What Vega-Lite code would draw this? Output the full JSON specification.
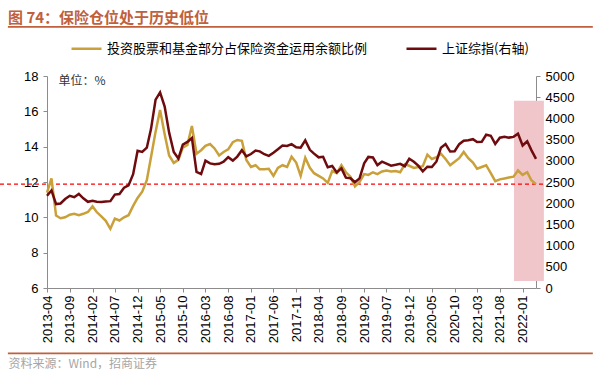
{
  "$schema": "https://vega.github.io/schema/vega-lite/v6.json",
  "width": 489,
  "height": 212,
  "autosize": {"type": "none"},
  "padding": {"left": 47, "top": 76, "right": 65, "bottom": 93},
  "background": "white",
  "title": {
    "text": "图 74：保险仓位处于历史低位",
    "anchor": "start",
    "frame": "group",
    "dx": -39,
    "fontSize": 15,
    "fontWeight": "bold",
    "color": "#C0603C",
    "font": "Noto Sans CJK SC",
    "offset": 0
  },
  "data": {"values": [
    {"month": "2013-04-01", "ratio": 11.4, "szzs": 2177},
    {"month": "2013-05-01", "ratio": 12.2, "szzs": 2301},
    {"month": "2013-06-01", "ratio": 10.1, "szzs": 1979},
    {"month": "2013-07-01", "ratio": 9.95, "szzs": 1994},
    {"month": "2013-08-01", "ratio": 10.0, "szzs": 2098},
    {"month": "2013-09-01", "ratio": 10.15, "szzs": 2175},
    {"month": "2013-10-01", "ratio": 10.2, "szzs": 2141},
    {"month": "2013-11-01", "ratio": 10.12, "szzs": 2220},
    {"month": "2013-12-01", "ratio": 10.2, "szzs": 2116},
    {"month": "2014-01-01", "ratio": 10.3, "szzs": 2033},
    {"month": "2014-02-01", "ratio": 10.62, "szzs": 2056},
    {"month": "2014-03-01", "ratio": 10.3, "szzs": 2033},
    {"month": "2014-04-01", "ratio": 10.05, "szzs": 2026},
    {"month": "2014-05-01", "ratio": 9.8, "szzs": 2039},
    {"month": "2014-06-01", "ratio": 9.35, "szzs": 2048},
    {"month": "2014-07-01", "ratio": 9.93, "szzs": 2202},
    {"month": "2014-08-01", "ratio": 9.82, "szzs": 2217},
    {"month": "2014-09-01", "ratio": 10.0, "szzs": 2364},
    {"month": "2014-10-01", "ratio": 10.12, "szzs": 2420},
    {"month": "2014-11-01", "ratio": 10.65, "szzs": 2683},
    {"month": "2014-12-01", "ratio": 11.1, "szzs": 3235},
    {"month": "2015-01-01", "ratio": 11.45, "szzs": 3210},
    {"month": "2015-02-01", "ratio": 12.1, "szzs": 3310},
    {"month": "2015-03-01", "ratio": 13.4, "szzs": 3748},
    {"month": "2015-04-01", "ratio": 14.85, "szzs": 4442},
    {"month": "2015-05-01", "ratio": 16.07, "szzs": 4612},
    {"month": "2015-06-01", "ratio": 14.7, "szzs": 4277},
    {"month": "2015-07-01", "ratio": 13.5, "szzs": 3664},
    {"month": "2015-08-01", "ratio": 13.08, "szzs": 3206},
    {"month": "2015-09-01", "ratio": 13.25, "szzs": 3053},
    {"month": "2015-10-01", "ratio": 13.95, "szzs": 3383},
    {"month": "2015-11-01", "ratio": 14.1, "szzs": 3446},
    {"month": "2015-12-01", "ratio": 15.17, "szzs": 3539},
    {"month": "2016-01-01", "ratio": 13.6, "szzs": 2738},
    {"month": "2016-02-01", "ratio": 13.8, "szzs": 2688},
    {"month": "2016-03-01", "ratio": 14.05, "szzs": 3004},
    {"month": "2016-04-01", "ratio": 14.15, "szzs": 2938},
    {"month": "2016-05-01", "ratio": 13.9, "szzs": 2917},
    {"month": "2016-06-01", "ratio": 13.5, "szzs": 2930},
    {"month": "2016-07-01", "ratio": 13.7, "szzs": 2979},
    {"month": "2016-08-01", "ratio": 13.85, "szzs": 3085},
    {"month": "2016-09-01", "ratio": 14.25, "szzs": 3005},
    {"month": "2016-10-01", "ratio": 14.38, "szzs": 3100},
    {"month": "2016-11-01", "ratio": 14.33, "szzs": 3250},
    {"month": "2016-12-01", "ratio": 13.25, "szzs": 3104},
    {"month": "2017-01-01", "ratio": 12.85, "szzs": 3159},
    {"month": "2017-02-01", "ratio": 12.95, "szzs": 3242},
    {"month": "2017-03-01", "ratio": 12.72, "szzs": 3223},
    {"month": "2017-04-01", "ratio": 12.72, "szzs": 3155},
    {"month": "2017-05-01", "ratio": 12.75, "szzs": 3117},
    {"month": "2017-06-01", "ratio": 12.35, "szzs": 3192},
    {"month": "2017-07-01", "ratio": 12.8, "szzs": 3273},
    {"month": "2017-08-01", "ratio": 12.95, "szzs": 3361},
    {"month": "2017-09-01", "ratio": 12.85, "szzs": 3349},
    {"month": "2017-10-01", "ratio": 13.43, "szzs": 3393},
    {"month": "2017-11-01", "ratio": 13.1, "szzs": 3317},
    {"month": "2017-12-01", "ratio": 12.35, "szzs": 3307},
    {"month": "2018-01-01", "ratio": 13.37, "szzs": 3481},
    {"month": "2018-02-01", "ratio": 12.8, "szzs": 3259},
    {"month": "2018-03-01", "ratio": 12.5, "szzs": 3169},
    {"month": "2018-04-01", "ratio": 12.35, "szzs": 3082},
    {"month": "2018-05-01", "ratio": 12.2, "szzs": 3095},
    {"month": "2018-06-01", "ratio": 11.95, "szzs": 2847},
    {"month": "2018-07-01", "ratio": 12.62, "szzs": 2876},
    {"month": "2018-08-01", "ratio": 12.5, "szzs": 2725},
    {"month": "2018-09-01", "ratio": 12.95, "szzs": 2821},
    {"month": "2018-10-01", "ratio": 12.55, "szzs": 2603},
    {"month": "2018-11-01", "ratio": 12.3, "szzs": 2588},
    {"month": "2018-12-01", "ratio": 11.75, "szzs": 2494},
    {"month": "2019-01-01", "ratio": 12.0, "szzs": 2585},
    {"month": "2019-02-01", "ratio": 12.45, "szzs": 2941},
    {"month": "2019-03-01", "ratio": 12.4, "szzs": 3091},
    {"month": "2019-04-01", "ratio": 12.55, "szzs": 3078},
    {"month": "2019-05-01", "ratio": 12.45, "szzs": 2899},
    {"month": "2019-06-01", "ratio": 12.6, "szzs": 2979},
    {"month": "2019-07-01", "ratio": 12.65, "szzs": 2933},
    {"month": "2019-08-01", "ratio": 12.6, "szzs": 2886},
    {"month": "2019-09-01", "ratio": 12.62, "szzs": 2905},
    {"month": "2019-10-01", "ratio": 12.55, "szzs": 2929},
    {"month": "2019-11-01", "ratio": 13.0, "szzs": 2872},
    {"month": "2019-12-01", "ratio": 12.92, "szzs": 3050},
    {"month": "2020-01-01", "ratio": 12.8, "szzs": 2977},
    {"month": "2020-02-01", "ratio": 12.85, "szzs": 2880},
    {"month": "2020-03-01", "ratio": 12.9, "szzs": 2750},
    {"month": "2020-04-01", "ratio": 13.55, "szzs": 2860},
    {"month": "2020-05-01", "ratio": 13.3, "szzs": 2852},
    {"month": "2020-06-01", "ratio": 13.4, "szzs": 2985},
    {"month": "2020-07-01", "ratio": 13.6, "szzs": 3310},
    {"month": "2020-08-01", "ratio": 13.3, "szzs": 3396},
    {"month": "2020-09-01", "ratio": 12.95, "szzs": 3218},
    {"month": "2020-10-01", "ratio": 13.15, "szzs": 3225},
    {"month": "2020-11-01", "ratio": 13.35, "szzs": 3392},
    {"month": "2020-12-01", "ratio": 13.7, "szzs": 3473},
    {"month": "2021-01-01", "ratio": 13.35, "szzs": 3483},
    {"month": "2021-02-01", "ratio": 13.1, "szzs": 3509},
    {"month": "2021-03-01", "ratio": 12.75, "szzs": 3442},
    {"month": "2021-04-01", "ratio": 12.85, "szzs": 3447},
    {"month": "2021-05-01", "ratio": 12.95, "szzs": 3615},
    {"month": "2021-06-01", "ratio": 12.5, "szzs": 3591},
    {"month": "2021-07-01", "ratio": 12.05, "szzs": 3397},
    {"month": "2021-08-01", "ratio": 12.15, "szzs": 3544},
    {"month": "2021-09-01", "ratio": 12.2, "szzs": 3568},
    {"month": "2021-10-01", "ratio": 12.25, "szzs": 3547},
    {"month": "2021-11-01", "ratio": 12.3, "szzs": 3564},
    {"month": "2021-12-01", "ratio": 12.65, "szzs": 3640},
    {"month": "2022-01-01", "ratio": 12.4, "szzs": 3361},
    {"month": "2022-02-01", "ratio": 12.55, "szzs": 3462},
    {"month": "2022-03-01", "ratio": 12.1, "szzs": 3252},
    {"month": "2022-04-01", "ratio": 11.88, "szzs": 3047}
  ]},
  "layer": [
    {
      "layer": [
        {
          "data": {"values": [{}]},
          "mark": {"type": "rect", "color": "#F1C6CA"},
          "encoding": {
            "x": {"datum": {"year": 2021, "month": 11, "date": 4, "utc": true}, "type": "temporal", "scale": {"type": "utc", "domain": [{"year": 2013, "month": 4, "date": 1, "utc": true}, {"year": 2022, "month": 4, "date": 1, "utc": true}]}},
            "x2": {"datum": {"year": 2022, "month": 5, "date": 24, "utc": true}},
            "y": {"datum": 16.6, "type": "quantitative", "scale": {"domain": [6, 18], "nice": false}},
            "y2": {"datum": 6.4}
          }
        },
        {
          "data": {"values": [{}]},
          "mark": {"type": "rule", "color": "#FF0000", "strokeDash": [4, 3], "strokeWidth": 1.2},
          "encoding": {
            "x": {"datum": {"year": 2012, "month": 5, "date": 20, "utc": true}, "type": "temporal", "scale": {"type": "utc", "domain": [{"year": 2013, "month": 4, "date": 1, "utc": true}, {"year": 2022, "month": 4, "date": 1, "utc": true}]}},
            "x2": {"datum": {"year": 2022, "month": 6, "date": 1, "utc": true}},
            "y": {"datum": 11.88, "type": "quantitative", "scale": {"domain": [6, 18], "nice": false}}
          }
        },
        {
          "data": {"values": [{"pos": 20.78}, {"pos": 2.3}]},
          "mark": {"type": "rule", "color": "#C0603C", "strokeWidth": 1.8},
          "encoding": {
            "x": {"datum": {"year": 2012, "month": 7, "date": 12, "utc": true}, "type": "temporal", "scale": {"type": "utc", "domain": [{"year": 2013, "month": 4, "date": 1, "utc": true}, {"year": 2022, "month": 4, "date": 1, "utc": true}]}},
            "x2": {"datum": {"year": 2023, "month": 4, "date": 18, "utc": true}},
            "y": {"field": "pos", "type": "quantitative", "scale": {"domain": [6, 18], "nice": false}}
          }
        },
        {
          "mark": {"type": "line", "strokeWidth": 2.5},
          "encoding": {
            "x": {
              "field": "month",
              "type": "temporal",
              "scale": {"type": "utc", "domain": [{"year": 2013, "month": 4, "date": 1, "utc": true}, {"year": 2022, "month": 4, "date": 1, "utc": true}]},
              "axis": {
                "values": [
                  {"year": 2013, "month": 4, "date": 1, "utc": true},
                  {"year": 2013, "month": 9, "date": 1, "utc": true},
                  {"year": 2014, "month": 2, "date": 1, "utc": true},
                  {"year": 2014, "month": 7, "date": 1, "utc": true},
                  {"year": 2014, "month": 12, "date": 1, "utc": true},
                  {"year": 2015, "month": 5, "date": 1, "utc": true},
                  {"year": 2015, "month": 10, "date": 1, "utc": true},
                  {"year": 2016, "month": 3, "date": 1, "utc": true},
                  {"year": 2016, "month": 8, "date": 1, "utc": true},
                  {"year": 2017, "month": 1, "date": 1, "utc": true},
                  {"year": 2017, "month": 6, "date": 1, "utc": true},
                  {"year": 2017, "month": 11, "date": 1, "utc": true},
                  {"year": 2018, "month": 4, "date": 1, "utc": true},
                  {"year": 2018, "month": 9, "date": 1, "utc": true},
                  {"year": 2019, "month": 2, "date": 1, "utc": true},
                  {"year": 2019, "month": 7, "date": 1, "utc": true},
                  {"year": 2019, "month": 12, "date": 1, "utc": true},
                  {"year": 2020, "month": 5, "date": 1, "utc": true},
                  {"year": 2020, "month": 10, "date": 1, "utc": true},
                  {"year": 2021, "month": 3, "date": 1, "utc": true},
                  {"year": 2021, "month": 8, "date": 1, "utc": true},
                  {"year": 2022, "month": 1, "date": 1, "utc": true}
                ],
                "tickCount": 40,
                "format": "%Y-%m",
                "labelAngle": 270,
                "labelFontSize": 13,
                "labelPadding": 3,
                "labelOverlap": false,
                "labelFlush": false,
                "labelBound": false,
                "title": "资料来源：Wind，招商证券",
                "titleFont": "Noto Sans CJK SC",
                "titleFontSize": 12,
                "titleFontWeight": "normal",
                "titleColor": "#A6A6A6",
                "titleAnchor": "start",
                "titleAlign": "left",
                "titleBaseline": "middle",
                "titleX": -39,
                "titleY": 75
              }
            },
            "y": {
              "field": "ratio",
              "type": "quantitative",
              "scale": {"domain": [6, 18], "nice": false},
              "axis": {
                "values": [6, 8, 10, 12, 14, 16, 18],
                "tickCount": 20,
                "format": "d",
                "orient": "left",
                "labelPadding": 5,
                "labelOverlap": false,
                "labelFlush": false,
                "labelBound": false,
                "title": "单位：%",
                "titleFont": "Noto Sans CJK SC",
                "titleFontSize": 12,
                "titleFontWeight": "normal",
                "titleColor": "#333333",
                "titleAngle": 0,
                "titleAlign": "left",
                "titleBaseline": "middle",
                "titleX": 11,
                "titleY": 4
              }
            },
            "color": {
              "datum": "投资股票和基金部分占保险资金运用余额比例",
              "type": "nominal",
              "scale": {"domain": ["投资股票和基金部分占保险资金运用余额比例", "上证综指(右轴)"], "range": ["#C9A03A", "#6E0B0E"]},
              "legend": {
                "orient": "none",
                "legendX": 23,
                "legendY": -44,
                "direction": "horizontal",
                "title": null,
                "symbolType": "stroke",
                "symbolStrokeWidth": 2.5,
                "symbolSize": 900,
                "labelFont": "Noto Sans CJK SC",
                "labelFontSize": 13,
                "labelColor": "#000000",
                "labelLimit": 400,
                "columnPadding": 33,
                "labelOffset": 4
              }
            }
          }
        }
      ]
    },
    {
      "mark": {"type": "line", "strokeWidth": 2.5},
      "encoding": {
        "x": {"field": "month", "type": "temporal", "scale": {"type": "utc", "domain": [{"year": 2013, "month": 4, "date": 1, "utc": true}, {"year": 2022, "month": 4, "date": 1, "utc": true}]}},
        "y": {
          "field": "szzs",
          "type": "quantitative",
          "scale": {"domain": [0, 5000], "nice": false},
          "axis": {"orient": "right", "values": [0, 500, 1000, 1500, 2000, 2500, 3000, 3500, 4000, 4500, 5000], "tickCount": 20, "format": "d", "title": null, "labelPadding": 5}
        },
        "color": {"datum": "上证综指(右轴)", "type": "nominal"}
      }
    }
  ],
  "resolve": {"scale": {"y": "independent"}},
  "config": {
    "view": {"stroke": null},
    "axis": {
      "labelFont": "Liberation Sans",
      "labelFontSize": 13,
      "labelColor": "#000000",
      "domainColor": "#8C8C8C",
      "tickColor": "#8C8C8C",
      "tickSize": 4,
      "grid": false,
      "labelOverlap": false,
      "labelFlush": false
    }
  }
}
